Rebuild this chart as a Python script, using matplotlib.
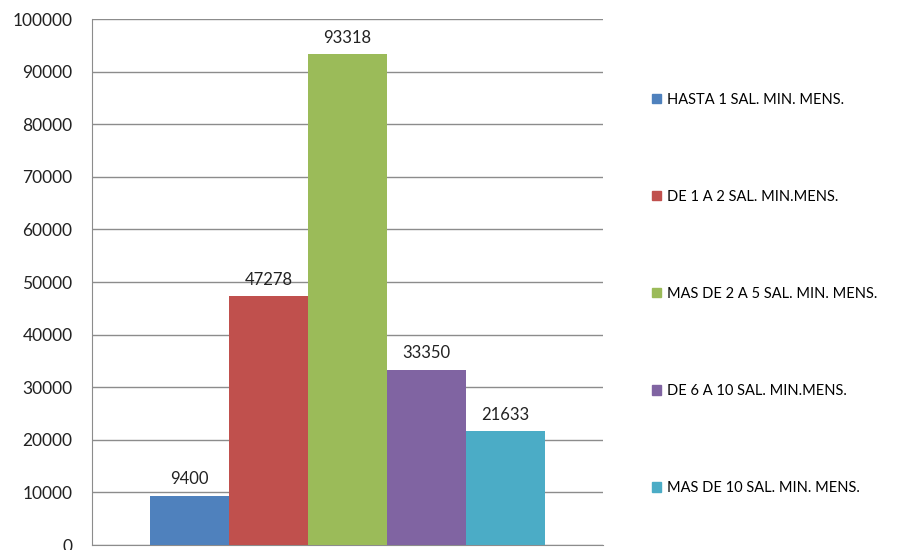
import matplotlib.pyplot as plt
from matplotlib.patches import Patch

categories = ["HASTA 1 SAL. MIN. MENS.", "DE 1 A 2 SAL. MIN.MENS.",
              "MAS DE 2 A 5 SAL. MIN. MENS.", "DE 6 A 10 SAL. MIN.MENS.",
              "MAS DE 10 SAL. MIN. MENS."]
values = [9400, 47278, 93318, 33350, 21633]
colors = ["#4F81BD", "#C0504D", "#9BBB59", "#8064A2", "#4BACC6"]

plt.rcParams['font.family'] = ['Lato', 'DejaVu Sans']

fig = plt.figure(figsize=(9.05, 5.5), dpi=100)
ax = fig.add_axes([0.1017, 0.009, 0.5646, 0.9564])

w = 79 / 511
for i, (v, c) in enumerate(zip(values, colors)):
    x = (i - 2) * w
    ax.bar(x, v, width=w, color=c, zorder=3)
    ax.annotate(str(v), (x, v), xytext=(0, 6), textcoords="offset points",
                ha="center", va="bottom", fontsize=12, color="#222222")

ax.set_xlim(-0.5, 0.5)
ax.set_ylim(0, 100000)
ax.set_yticks(range(0, 100001, 10000))
ax.tick_params(axis="y", length=0, labelsize=12.5, pad=14, colors="#222222")
ax.set_xticks([])
ax.grid(axis="y", color="#8c8c8c", linewidth=1, zorder=0)
for s in ["top", "right"]:
    ax.spines[s].set_visible(False)
ax.spines["left"].set_color("#8c8c8c")
ax.spines["bottom"].set_color("#8c8c8c")

handles = [Patch(color=c, label=l) for c, l in zip(colors, categories)]
fig.legend(handles=handles, loc="center left", bbox_to_anchor=(0.706, 0.4655),
           frameon=False, fontsize=10.5, labelspacing=5.7, handlelength=0.6,
           handleheight=0.6, handletextpad=0.4)

fig.savefig("out.png", dpi=100)
